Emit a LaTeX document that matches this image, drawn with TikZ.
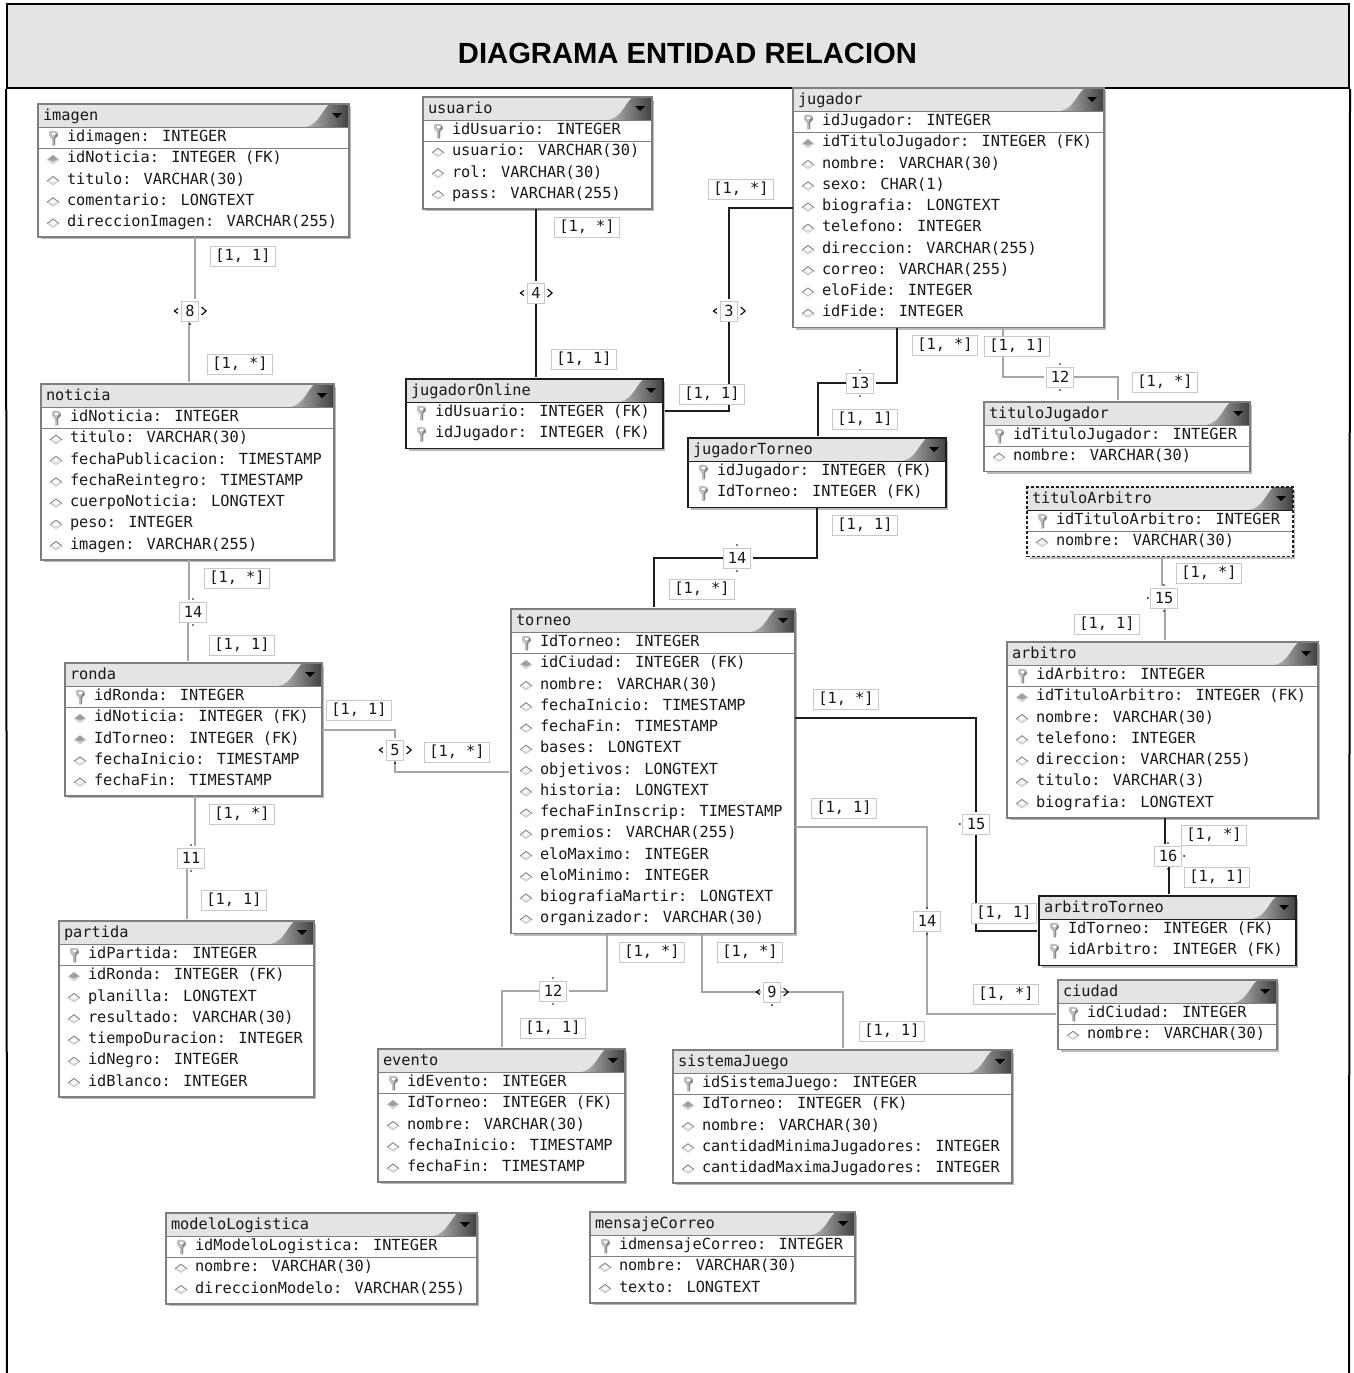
\documentclass[tikz,border=0pt]{standalone}
\usepackage{fontspec}
\setmainfont{Liberation Sans}
\newfontfamily\erfont{DejaVu Sans Mono}
\usetikzlibrary{calc}
\definecolor{band}{HTML}{E4E4E4}
\definecolor{lgray}{HTML}{7E7E7E}
\definecolor{dgray}{HTML}{1E1E1E}
\definecolor{lline}{HTML}{A6A6A6}
\definecolor{lblborder}{HTML}{C8C8C8}
\tikzset{
  x=1pt,y=-1pt,
  lightbox/.style={draw=lgray,line width=1.6pt},
  darkbox/.style={draw=dgray,line width=1.6pt},
  dashbox/.style={draw=dgray,line width=1.6pt,densely dashed},
  rowtxt/.style={anchor=west,inner sep=0pt,outer sep=0pt,font=\erfont\fontsize{15.3}{15}\selectfont,text=black!90,text height=11pt,text depth=3pt},
  mult/.style={draw=lblborder,line width=1pt,fill=white,inner xsep=5pt,inner ysep=0pt,minimum height=20pt,font=\erfont\fontsize{15.3}{15}\selectfont,text=black!90},
  relnum/.style={draw=lblborder,line width=1pt,fill=white,inner xsep=4pt,inner ysep=0pt,minimum height=20pt,font=\erfont\fontsize{15.3}{15}\selectfont,text=black!90},
  rell/.style={draw=lline,line width=1.3pt,shorten >=2pt},
  reld/.style={draw=dgray,line width=1.5pt,shorten >=2pt},
  tick/.style={draw=black,line width=1.1pt},
}
\newcommand{\iconK}[2]{%
  \fill[gray!50] (#1+1,#2+8) -- (#1+2,#2+7) -- (#1+2,#2+1) -- (#1+5,#2-2) -- (#1+4,#2-6) -- (#1-1,#2-7) -- (#1-4,#2-6) -- (#1-4,#2-2) -- (#1-1,#2+2) -- (#1-1,#2+8) -- cycle;
  \fill[gray!95] (#1+1.2,#2+8) -- (#1+2,#2+7) -- (#1+2,#2+1) -- (#1+5,#2-2) -- (#1+4,#2-5) -- (#1+.6,#2+1) -- cycle;
  \fill[white] (#1-1.5,#2-5) rectangle (#1+1.5,#2-2.5);
}
\newcommand{\iconA}[2]{%
  \fill[gray!35] (#1-6.5,#2+1) -- (#1,#2-4) -- (#1+6.5,#2+1) -- (#1,#2+5.5) -- cycle;
  \fill[gray!5] (#1-4,#2+.5) -- (#1,#2-2.5) -- (#1+4,#2+.5) -- (#1,#2+3) -- cycle;
  \draw[gray,line width=.7pt] (#1-6,#2+1) -- (#1,#2-3.6) -- (#1+6,#2+1);
}
\newcommand{\iconF}[2]{%
  \fill[gray!35] (#1-6.5,#2+1) -- (#1,#2-4) -- (#1+6.5,#2+1) -- (#1,#2+5.5) -- cycle;
  \fill[gray!75] (#1-5,#2+.5) -- (#1,#2-3.5) -- (#1+5,#2+.5) -- (#1,#2+2.5) -- cycle;
}
% id, style, x1, x2, top, nrows, nsep, title, rows
\newcommand{\entity}[9]{%
  \draw[gray!55,line width=1.2pt] (#3+3,#5+28.4+21.25*#6) -- (#4+1.4,#5+28.4+21.25*#6) -- (#4+1.4,#5+3);
  \fill[white] (#3,#5) rectangle (#4,#5+27+21.25*#6);
  \fill[band] (#3,#5) rectangle (#4,#5+23);
  \shade[left color=gray!55,right color=black!75] (#4-44,#5+23) .. controls (#4-30,#5+21) and (#4-26,#5+4) .. (#4-19,#5) -- (#4,#5) -- (#4,#5+23) -- cycle;
  \fill[black] (#4-17,#5+9) -- (#4-7,#5+9) -- (#4-12,#5+14) -- cycle;
  \node[#2,fill=none,anchor=north west,inner sep=0pt,outer sep=0pt,minimum width={(#4-#3)*1pt},minimum height={(27+21.25*#6)*1pt}] (#1) at (#3,#5) {};
  \draw[#2,line width=.8pt,solid] (#3,#5+23) -- (#4,#5+23);
  \node[rowtxt] (#1-title) at (#3+5,#5+12.7) {#8};
  \ifnum#7>0 \draw[gray,line width=.8pt] (#3+1,#5+23+21.25*#7) -- (#4-1,#5+23+21.25*#7);\fi
  \foreach \t/\s [count=\i from 0] in {#9}{
    \csname icon\t\endcsname{#3+15}{#5+33.5+21.25*\i}
    \node[rowtxt] (#1-r\i) at (#3+29,#5+33.7+21.25*\i) {\s};
  }
}
\begin{document}
\begin{tikzpicture}
\useasboundingbox (0,0) rectangle (1353,1373);
\fill[white] (0,0) rectangle (1353,1373);
\node[draw=black,line width=2pt,fill=band,minimum width=1342pt,minimum height=84pt,inner sep=0pt] (band) at (678,46) {};
\node[inner sep=0pt,font=\fontsize{29.2}{29}\selectfont\bfseries] (title) at (687.5,53) {DIAGRAMA ENTIDAD RELACION};
\coordinate (frameL) at (7,1373);
\coordinate (frameR) at (1349,1373);
\draw[black,line width=2pt] (band.south west) -- (frameL);
\draw[black,line width=2pt] (band.south east) -- (frameR);

\entity{imagen}{lightbox}{38}{349}{104}{5}{1}{imagen}{K/idimagen: INTEGER,F/idNoticia: INTEGER (FK),A/titulo: VARCHAR(30),A/comentario: LONGTEXT,A/direccionImagen: VARCHAR(255)}
\entity{usuario}{lightbox}{423}{652}{97}{4}{1}{usuario}{K/idUsuario: INTEGER,A/usuario: VARCHAR(30),A/rol: VARCHAR(30),A/pass: VARCHAR(255)}
\entity{jugador}{lightbox}{793}{1104}{88}{10}{1}{jugador}{K/idJugador: INTEGER,F/idTituloJugador: INTEGER (FK),A/nombre: VARCHAR(30),A/sexo: CHAR(1),A/biografia: LONGTEXT,A/telefono: INTEGER,A/direccion: VARCHAR(255),A/correo: VARCHAR(255),A/eloFide: INTEGER,A/idFide: INTEGER}
\entity{jugadorOnline}{darkbox}{406}{663}{379}{2}{0}{jugadorOnline}{K/idUsuario: INTEGER (FK),K/idJugador: INTEGER (FK)}
\entity{jugadorTorneo}{darkbox}{688}{946}{438}{2}{0}{jugadorTorneo}{K/idJugador: INTEGER (FK),K/IdTorneo: INTEGER (FK)}
\entity{noticia}{lightbox}{41}{334}{384}{7}{1}{noticia}{K/idNoticia: INTEGER,A/titulo: VARCHAR(30),A/fechaPublicacion: TIMESTAMP,A/fechaReintegro: TIMESTAMP,A/cuerpoNoticia: LONGTEXT,A/peso: INTEGER,A/imagen: VARCHAR(255)}
\entity{tituloJugador}{lightbox}{984}{1250}{402}{2}{1}{tituloJugador}{K/idTituloJugador: INTEGER,A/nombre: VARCHAR(30)}
\entity{tituloArbitro}{dashbox}{1027}{1293}{487}{2}{1}{tituloArbitro}{K/idTituloArbitro: INTEGER,A/nombre: VARCHAR(30)}
\entity{arbitro}{lightbox}{1007}{1318}{642}{7}{1}{arbitro}{K/idArbitro: INTEGER,F/idTituloArbitro: INTEGER (FK),A/nombre: VARCHAR(30),A/telefono: INTEGER,A/direccion: VARCHAR(255),A/titulo: VARCHAR(3),A/biografia: LONGTEXT}
\entity{torneo}{lightbox}{511}{795}{609}{14}{1}{torneo}{K/IdTorneo: INTEGER,F/idCiudad: INTEGER (FK),A/nombre: VARCHAR(30),A/fechaInicio: TIMESTAMP,A/fechaFin: TIMESTAMP,A/bases: LONGTEXT,A/objetivos: LONGTEXT,A/historia: LONGTEXT,A/fechaFinInscrip: TIMESTAMP,A/premios: VARCHAR(255),A/eloMaximo: INTEGER,A/eloMinimo: INTEGER,A/biografiaMartir: LONGTEXT,A/organizador: VARCHAR(30)}
\entity{ronda}{lightbox}{65}{322}{663}{5}{1}{ronda}{K/idRonda: INTEGER,F/idNoticia: INTEGER (FK),F/IdTorneo: INTEGER (FK),A/fechaInicio: TIMESTAMP,A/fechaFin: TIMESTAMP}
\entity{partida}{lightbox}{59}{314}{921}{7}{1}{partida}{K/idPartida: INTEGER,F/idRonda: INTEGER (FK),A/planilla: LONGTEXT,A/resultado: VARCHAR(30),A/tiempoDuracion: INTEGER,A/idNegro: INTEGER,A/idBlanco: INTEGER}
\entity{arbitroTorneo}{darkbox}{1039}{1296}{896}{2}{0}{arbitroTorneo}{K/IdTorneo: INTEGER (FK),K/idArbitro: INTEGER (FK)}
\entity{ciudad}{lightbox}{1058}{1277}{980}{2}{1}{ciudad}{K/idCiudad: INTEGER,A/nombre: VARCHAR(30)}
\entity{evento}{lightbox}{378}{625}{1049}{5}{1}{evento}{K/idEvento: INTEGER,F/IdTorneo: INTEGER (FK),A/nombre: VARCHAR(30),A/fechaInicio: TIMESTAMP,A/fechaFin: TIMESTAMP}
\entity{sistemaJuego}{lightbox}{673}{1012}{1050}{5}{1}{sistemaJuego}{K/idSistemaJuego: INTEGER,F/IdTorneo: INTEGER (FK),A/nombre: VARCHAR(30),A/cantidadMinimaJugadores: INTEGER,A/cantidadMaximaJugadores: INTEGER}
\entity{modeloLogistica}{lightbox}{166}{477}{1213}{3}{1}{modeloLogistica}{K/idModeloLogistica: INTEGER,A/nombre: VARCHAR(30),A/direccionModelo: VARCHAR(255)}
\entity{mensajeCorreo}{lightbox}{590}{855}{1212}{3}{1}{mensajeCorreo}{K/idmensajeCorreo: INTEGER,A/nombre: VARCHAR(30),A/texto: LONGTEXT}

% relation numbers
\node[relnum] (rel8) at (190,311) {8};
\node[relnum] (rel4) at (536,293) {4};
\node[relnum] (rel3) at (729,311) {3};
\node[relnum] (rel13) at (860,383) {13};
\node[relnum] (rel12a) at (1060,377) {12};
\node[relnum] (rel14a) at (737,558) {14};
\node[relnum] (rel15a) at (1164,598) {15};
\node[relnum] (rel16) at (1168,856) {16};
\node[relnum] (rel15b) at (976,824) {15};
\node[relnum] (rel14b) at (927,921) {14};
\node[relnum] (rel5) at (395,750) {5};
\node[relnum] (rel14c) at (193,612) {14};
\node[relnum] (rel11) at (191,858) {11};
\node[relnum] (rel12b) at (553,991) {12};
\node[relnum] (rel9) at (772,992) {9};

% connectors
\draw[rell] (imagen.south -| 195,0) -- (rel8.north -| 195,0);
\draw[rell] (rel8.south -| 189,0) -- (noticia.north -| 189,0);
\draw[reld] (usuario.south -| 536,0) -- (rel4.north);
\draw[reld] (rel4.south) -- (jugadorOnline.north -| 536,0);
\draw[reld] (jugador.west |- 0,208) -| (rel3.north);
\draw[reld] (rel3.south) |- (jugadorOnline.east |- 0,411);
\draw[reld] (jugador.south -| 897,0) |- (rel13.east);
\draw[reld] (rel13.west) -| (jugadorTorneo.north -| 818,0);
\draw[rell] (jugador.south -| 1003,0) |- (rel12a.west);
\draw[rell] (rel12a.east) -| (tituloJugador.north -| 1118,0);
\draw[reld] (jugadorTorneo.south -| 817,0) |- (rel14a.east);
\draw[reld] (rel14a.west) -| (torneo.north -| 654,0);
\draw[rell] (tituloArbitro.south -| 1162,0) -- (rel15a.north -| 1162,0);
\draw[rell] (rel15a.south -| 1165,0) -- (arbitro.north -| 1165,0);
\draw[reld] (arbitro.south -| 1165,0) -- (rel16.north -| 1165,0);
\draw[reld] (rel16.south -| 1169,0) -- (arbitroTorneo.north -| 1169,0);
\draw[reld] (torneo.east |- 0,718) -| (rel15b.north);
\draw[reld] (rel15b.south) |- (arbitroTorneo.west |- 0,931);
\draw[rell] (torneo.east |- 0,827) -| (rel14b.north);
\draw[rell] (rel14b.south) |- (ciudad.west |- 0,1014);
\draw[rell] (ronda.east |- 0,730) -| (rel5.north);
\draw[rell] (rel5.south) |- (torneo.west |- 0,772);
\draw[rell] (noticia.south -| 189,0) -- (rel14c.north -| 189,0);
\draw[rell] (rel14c.south -| 188,0) -- (ronda.north -| 188,0);
\draw[rell] (ronda.south -| 195,0) -- (rel11.north -| 195,0);
\draw[rell] (rel11.south -| 187,0) -- (partida.north -| 187,0);
\draw[rell] (torneo.south -| 607,0) |- (rel12b.east);
\draw[rell] (rel12b.west) -| (evento.north -| 502,0);
\draw[rell] (torneo.south -| 702,0) |- (rel9.west);
\draw[rell] (rel9.east) -| (sistemaJuego.north -| 843,0);

% small direction marks at relation labels
\foreach \n in {rel8,rel4,rel3,rel5,rel9}{
  \draw[tick] ([xshift=2.5pt,yshift=4pt]\n.east) -- ([xshift=7pt]\n.east) -- ([xshift=2.5pt,yshift=-4pt]\n.east);
  \draw[tick] ([xshift=-3pt,yshift=2.5pt]\n.west) -- ([xshift=-6.5pt]\n.west) -- ([xshift=-3pt,yshift=-2.5pt]\n.west);
  \fill ([yshift=-2.5pt]\n.south) circle (1pt);
}
\foreach \n in {rel13,rel14a,rel12a,rel12b,rel14c,rel11,rel14b,rel15a,rel16,rel15b}{
  \fill ([yshift=2.5pt]\n.north) circle (.9pt);
  \fill ([yshift=-2.5pt]\n.south) circle (.9pt);
}
\fill ([xshift=-2.5pt]rel15b.west) circle (1pt);
\fill ([xshift=-2.5pt]rel15a.west) circle (1pt);
\fill ([xshift=2.5pt]rel16.east) circle (1pt);

% multiplicities
\foreach \x/\y/\t [count=\i] in {243/256/1,240/364/*,587/227/*,584/359/1,741/189/*,712/394/1,945/345/*,1017/346/1,1165/382/*,865/419/1,865/525/1,702/589/*,1209/573/*,1107/624/1,237/578/*,242/645/1,359/710/1,457/752/*,242/814/*,234/900/1,846/699/*,844/808/1,1214/835/*,1217/877/1,1004/913/1,652/952/*,750/952/*,553/1028/1,892/1031/1,1006/994/*}{
  \node[mult] (mult\i) at (\x,\y) {[1, \t]};
}
\end{tikzpicture}
\end{document}
